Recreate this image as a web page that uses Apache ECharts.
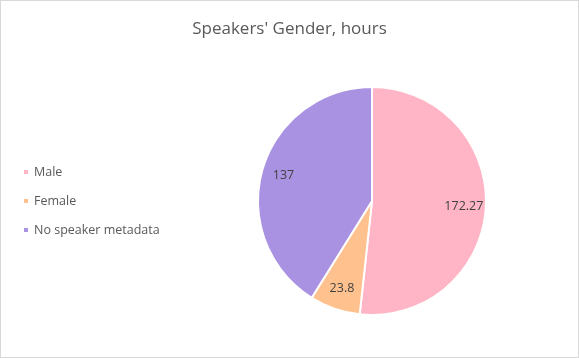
<!DOCTYPE html>
<html><head><meta charset="utf-8">
<script src="https://cdn.jsdelivr.net/npm/echarts@6/dist/echarts.min.js"></script>
<style>html,body{margin:0;padding:0;background:#fff}#c{width:579px;height:358px;box-sizing:border-box;border:1px solid #d9d9d9}</style>
</head><body><div id="c"></div>
<script>
const categories = ['Male', 'Female', 'No speaker metadata'];
const hours = [172.27, 23.8, 137];
const labels = ['172.27', '23.8', '137'];
const colors = ['#FFB5C5', '#FFC28F', '#A992E2'];

const chart = echarts.init(document.getElementById('c'));
const font = '"Open Sans", sans-serif';
const data = categories.map((n, i) => ({ name: n, value: hours[i], itemStyle: { color: colors[i] } }));
chart.setOption({
  animation: false,
  title: { text: "Speakers' Gender, hours", left: 'center', top: 15,
    textStyle: { fontFamily: font, fontSize: 17, fontWeight: 'normal', color: '#595959' } },
  legend: { orient: 'vertical', left: 21, top: 163, padding: 0, icon: 'rect', itemWidth: 6, itemHeight: 6,
    itemGap: 13, itemTextGap: 5, data: categories,
    textStyle: { fontFamily: font, fontSize: 12.5, color: '#595959', lineHeight: 16 } },
  series: [
    { type: 'pie', center: [371, 200], radius: 114, startAngle: 90, clockwise: true,
      silent: true, label: { show: false }, labelLine: { show: false },
      itemStyle: { borderColor: '#fff', borderWidth: 2 }, data: data },
    { type: 'pie', center: [371, 200], radius: [64, 114], startAngle: 90, clockwise: true,
      silent: true, labelLine: { show: false },
      itemStyle: { color: 'rgba(0,0,0,0)', borderWidth: 0 },
      label: { show: true, position: 'inside', fontFamily: font, fontSize: 12.5, color: '#404040',
        formatter: p => labels[p.dataIndex] },
      data: categories.map((n, i) => ({ name: n, value: hours[i] })) }
  ]
});
</script></body></html>
